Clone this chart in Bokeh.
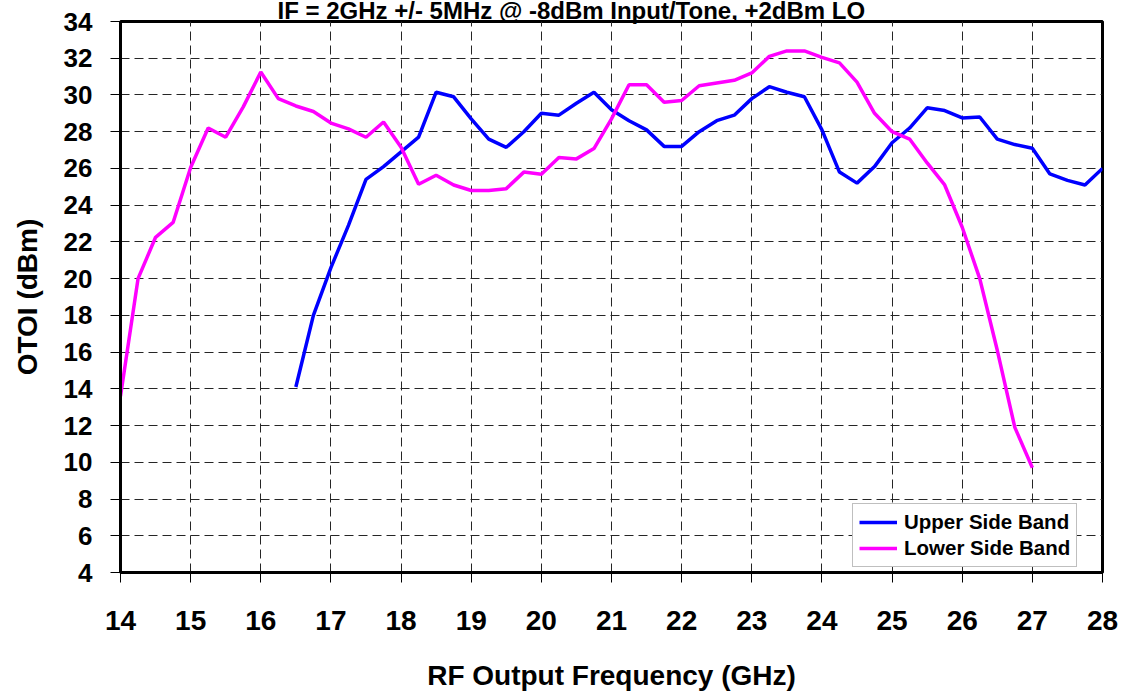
from bokeh.plotting import figure
from bokeh.models import Range1d, FixedTicker, Legend, LegendItem
from bokeh.embed import file_html
from bokeh.resources import INLINE

title_text = "IF = 2GHz +/- 5MHz @ -8dBm Input/Tone, +2dBm LO"
x_label = "RF Output Frequency (GHz)"
y_label = "OTOI (dBm)"

x_ticks = [14, 15, 16, 17, 18, 19, 20, 21, 22, 23, 24, 25, 26, 27, 28]
y_ticks = [4, 6, 8, 10, 12, 14, 16, 18, 20, 22, 24, 26, 28, 30, 32, 34]

usb_freq = [16.5, 16.75, 17.0, 17.25, 17.5, 17.75, 18.0, 18.25, 18.5, 18.75,
            19.0, 19.25, 19.5, 19.75, 20.0, 20.25, 20.5, 20.75, 21.0, 21.25,
            21.5, 21.75, 22.0, 22.25, 22.5, 22.75, 23.0, 23.25, 23.5, 23.75,
            24.0, 24.25, 24.5, 24.75, 25.0, 25.25, 25.5, 25.75, 26.0, 26.25,
            26.5, 26.75, 27.0, 27.25, 27.5, 27.75, 28.0]
usb_otoi = [14.1, 18.0, 20.6, 22.9, 25.4, 26.1, 26.9, 27.7, 30.15, 29.9,
            28.7, 27.6, 27.15, 28.0, 29.0, 28.9, 29.55, 30.15, 29.2, 28.6,
            28.1, 27.2, 27.2, 28.0, 28.6, 28.9, 29.8, 30.45, 30.15, 29.9,
            28.1, 25.8, 25.2, 26.1, 27.4, 28.2, 29.3, 29.15, 28.75, 28.8,
            27.6, 27.3, 27.1, 25.7, 25.35, 25.1, 26.0]

lsb_freq = [14.0, 14.25, 14.5, 14.75, 15.0, 15.25, 15.5, 15.75, 16.0, 16.25,
            16.5, 16.75, 17.0, 17.25, 17.5, 17.75, 18.0, 18.25, 18.5, 18.75,
            19.0, 19.25, 19.5, 19.75, 20.0, 20.25, 20.5, 20.75, 21.0, 21.25,
            21.5, 21.75, 22.0, 22.25, 22.5, 22.75, 23.0, 23.25, 23.5, 23.75,
            24.0, 24.25, 24.5, 24.75, 25.0, 25.25, 25.5, 25.75, 26.0, 26.25,
            26.5, 26.75, 27.0]
lsb_otoi = [13.6, 20.0, 22.25, 23.06, 26.05, 28.2, 27.7, 29.35, 31.25, 29.8,
            29.4, 29.1, 28.47, 28.15, 27.7, 28.53, 27.15, 25.14, 25.63, 25.1,
            24.8, 24.8, 24.9, 25.8, 25.68, 26.6, 26.52, 27.08, 28.7, 30.56,
            30.56, 29.6, 29.7, 30.5, 30.65, 30.8, 31.2, 32.1, 32.4, 32.4,
            32.05, 31.75, 30.7, 29.0, 28.0, 27.6, 26.3, 25.1, 22.8, 20.0,
            16.1, 11.9, 9.7]

series_names = ["Upper Side Band", "Lower Side Band"]
series_colors = ["#0000FF", "#FF00FF"]

FONT = "Liberation Sans"

p = figure(width=1123, height=693, output_backend="svg", toolbar_location=None,
           x_range=Range1d(14, 28), y_range=Range1d(4, 34),
           min_border_left=120, min_border_right=21, min_border_top=21,
           min_border_bottom=120)
p.background_fill_color = "white"
p.border_fill_color = "white"
p.outline_line_color = "black"
p.outline_line_width = 3

r_usb = p.line(usb_freq, usb_otoi, line_color=series_colors[0], line_width=3.5)
r_lsb = p.line(lsb_freq, lsb_otoi, line_color=series_colors[1], line_width=3.5)

p.xaxis.ticker = FixedTicker(ticks=x_ticks)
p.yaxis.ticker = FixedTicker(ticks=y_ticks)

for ax in (p.xaxis[0], p.yaxis[0]):
    ax.axis_line_color = "black"
    ax.axis_line_width = 3
    ax.major_tick_out = 10
    ax.major_tick_in = 0
    ax.major_tick_line_color = "black"
    ax.major_tick_line_width = 1
    ax.minor_tick_line_color = None
    ax.major_label_text_font = FONT
    ax.major_label_text_font_style = "bold"
    ax.major_label_text_color = "black"
    ax.axis_label_text_font = FONT
    ax.axis_label_text_font_style = "bold"
    ax.axis_label_text_color = "black"

p.xaxis.axis_label = x_label
p.yaxis.axis_label = y_label
p.xaxis.major_label_text_font_size = "28px"
p.yaxis.major_label_text_font_size = "26px"
p.xaxis.axis_label_text_font_size = "28px"
p.yaxis.axis_label_text_font_size = "28px"
p.xaxis.major_label_standoff = 28
p.yaxis.major_label_standoff = 18
p.xaxis.axis_label_standoff = 27
p.yaxis.axis_label_standoff = 18

for g in (p.xgrid[0], p.ygrid[0]):
    g.grid_line_color = "#262626"
    g.grid_line_dash = "9 5"
    g.grid_line_width = 1

legend = Legend(items=[LegendItem(label=series_names[0], renderers=[r_usb]),
                       LegendItem(label=series_names[1], renderers=[r_lsb])],
                location=(732, 5))
legend.label_text_font = FONT
legend.label_text_font_style = "bold"
legend.label_text_font_size = "20.5px"
legend.label_text_color = "black"
legend.border_line_color = "#808080"
legend.border_line_width = 1
legend.background_fill_color = "white"
legend.background_fill_alpha = 1
legend.glyph_width = 38
legend.glyph_height = 18
legend.label_height = 18
legend.label_standoff = 7
legend.spacing = 2
legend.padding = 6
legend.margin = 0
p.add_layout(legend, "center")

# title squeezed into the thin strip above the frame
p.title.text = title_text
p.title.text_font = FONT
p.title.text_font_style = "bold"
p.title.text_font_size = "24px"
p.title.text_color = "black"
p.title.align = "left"
p.title.offset = 157
p.title.vertical_align = "top"
p.title.standoff = -8

open("out.html", "w").write(file_html(p, INLINE))
